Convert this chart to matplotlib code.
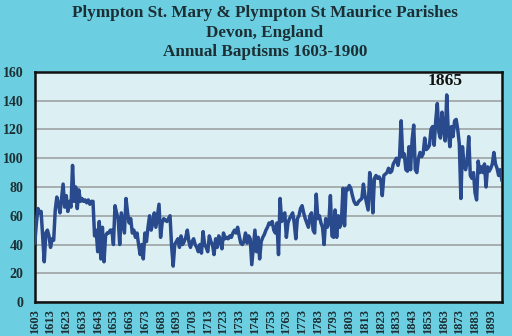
import matplotlib
matplotlib.use("Agg")
import matplotlib.pyplot as plt
import numpy as np

years = list(range(1603, 1901))
baptisms = [
    41, 55, 65, 62, 63, 45, 28, 48, 50, 46,          # 1603-1612
    38, 44, 43, 64, 73, 68, 62, 72, 82, 66,          # 1613-1622
    74, 63, 70, 66, 95, 70, 80, 65, 78, 70,          # 1623-1632
    72, 70, 71, 69, 71, 68, 70, 70, 46, 50,          # 1633-1642
    35, 56, 30, 52, 28, 46, 48, 48, 50, 50,          # 1643-1652
    40, 67, 62, 58, 40, 62, 55, 48, 72, 62,          # 1653-1662
    55, 58, 48, 50, 45, 48, 40, 33, 40, 30,          # 1663-1672
    48, 42, 52, 60, 50, 55, 62, 52, 60, 68,          # 1673-1682
    45, 55, 58, 57, 56, 58, 60, 39, 25, 40,          # 1683-1692
    42, 44, 38, 46, 40, 42, 45, 50, 42, 38,          # 1693-1702
    42, 44, 40, 38, 35, 40, 34, 49, 40, 38,          # 1703-1712
    35, 46, 42, 40, 33, 44, 38, 46, 43, 37,          # 1713-1722
    48, 44, 45, 44, 46, 45, 48, 50, 48, 52,          # 1723-1732
    46, 41, 40, 42, 48, 41, 46, 44, 26, 38,          # 1733-1742
    50, 35, 45, 30, 42, 45, 47, 50, 52, 55,          # 1743-1752
    54, 56, 50, 48, 55, 33, 72, 56, 60, 62,          # 1753-1762
    45, 55, 58, 60, 62, 55, 44, 58, 60, 65,          # 1763-1772
    67, 62, 58, 55, 52, 60, 62, 50, 48, 75,          # 1773-1782
    58, 60, 55, 52, 40, 58, 52, 55, 74, 46,          # 1783-1792
    45, 64, 45, 60, 52, 56, 79, 53, 79, 78,          # 1793-1802
    81, 79, 74, 70, 68, 68, 70, 71, 72, 82,          # 1803-1812
    74, 69, 64, 90, 82, 62, 86, 88, 86, 87,          # 1813-1822
    85, 74, 88, 89, 90, 93, 90, 91, 96, 98,          # 1823-1832
    100, 95, 101, 126, 101, 103, 92, 91, 108, 92,    # 1833-1842
    113, 123, 92, 90, 100, 104, 101, 103, 114, 106,  # 1843-1852
    107, 109, 120, 122, 109, 126, 138, 118, 114, 132,# 1853-1862
    120, 112, 144, 118, 108, 122, 115, 126, 127, 120,# 1863-1872
    110, 72, 108, 96, 92, 98, 115, 88, 86, 90,       # 1873-1882
    76, 71, 98, 90, 94, 90, 96, 80, 94, 91,          # 1883-1892
    93, 96, 104, 96, 93, 88, 92, 85,                 # 1893-1900
]
xtick_years = list(range(1603, 1900, 10))
yticks = list(range(0, 161, 20))
title_lines = ["Plympton St. Mary & Plympton St Maurice Parishes",
               "Devon, England",
               "Annual Baptisms 1603-1900"]
peak_label = "1865"
peak_year = 1865

bg = "#6ccfe1"
face = "#dcf0f3"
line_col = "#2a4a8e"
txt_col = "#1c2f35"

fig = plt.figure(figsize=(5.12, 3.36), dpi=100, facecolor=bg)
ax = fig.add_axes([0.068, 0.101, 0.912, 0.685])
ax.set_facecolor(face)
ax.plot(years, baptisms, color=line_col, lw=2.5, solid_joinstyle="round", zorder=3)

ax.set_xlim(1603, 1900)
ax.set_ylim(0, 160)
ax.set_yticks(yticks)
ax.set_xticks(xtick_years)
ax.set_xticklabels([str(y) for y in xtick_years], rotation=90)
ax.tick_params(length=0)
ax.tick_params(axis="y", pad=8)
ax.tick_params(axis="x", pad=5)
for lab in ax.get_yticklabels():
    lab.set_fontfamily("Liberation Serif")
    lab.set_fontweight("bold")
    lab.set_fontsize(10)
    lab.set_color(txt_col)
for lab in ax.get_xticklabels():
    lab.set_fontfamily("Liberation Serif")
    lab.set_fontweight("bold")
    lab.set_fontsize(9)
    lab.set_color(txt_col)
ax.grid(axis="y", color="#a3a8aa", lw=1.3, zorder=1)
ax.grid(axis="x", visible=False)
for s in ax.spines.values():
    s.set_linewidth(1.8)
    s.set_color("#111111")

pk = baptisms[years.index(peak_year)]
ax.annotate(peak_label, (peak_year, pk), xytext=(-1, 4), textcoords="offset points",
            ha="center", va="bottom", fontfamily="Liberation Serif",
            fontweight="bold", fontsize=12.5, color="#111111")

for yc, line in zip([0.960, 0.903, 0.846], title_lines):
    fig.text(0.517, yc, line, ha="center", va="center", fontfamily="Liberation Serif",
             fontweight="bold", fontsize=12.3, color=txt_col)

fig.savefig("out.png", dpi=100, facecolor=bg)
